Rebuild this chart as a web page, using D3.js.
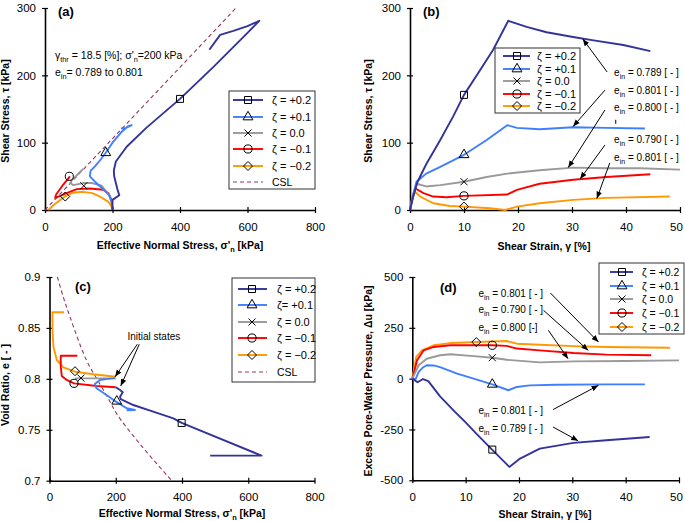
<!DOCTYPE html>
<html><head><meta charset="utf-8">
<script src="https://cdn.jsdelivr.net/npm/d3@7"></script>
<style>body{margin:0;background:#fff}svg{display:block}text{font-family:"Liberation Sans",Arial,sans-serif}</style>
</head><body>
<svg id="c" width="685" height="521"></svg>
<script>
// ---------- shared ----------
const seriesNames = ["ζ = +0.2","ζ = +0.1","ζ = 0.0","ζ = −0.1","ζ = −0.2"];
const seriesNamesC = ["ζ = +0.2","ζ= +0.1","ζ = 0.0","ζ = −0.1","ζ = −0.2"];
const colors = ["#333399","#3f7fff","#999999","#ff0000","#ff9900"];
const markerTypes = ["square","triangle","x","circle","diamond"];
const cslColor = "#993366";

// ---------- panel (a): [σ'n kPa, τ kPa] ----------
const a_p02 = [[200,0],[200,15],[220,22],[214,32],[205,50],[204,59],[210,72],[242,94],[300,122],[400,165],[500,213],[600,263],[635,281],[600,273],[558,266],[519,260],[487,238]];
const a_p01 = [[200,0],[198,12],[190,22],[170,32],[148,42],[133,50],[135,58],[150,66],[165,75],[180,85],[200,100],[225,115],[245,124],[257,126],[240,122],[225,121]];
const a_p00 = [[200,0],[197,12],[190,22],[168,36],[140,40],[113,40],[84,37],[75,40],[79,44],[95,52],[113,61]];
const a_m01 = [[200,0],[197,15],[188,25],[173,30],[133,32],[94,31],[64,25],[40,20],[30,18],[33,23],[50,35],[74,50]];
const a_m02 = [[200,0],[196,6],[188,12],[163,20],[140,25],[113,27],[90,26],[79,25],[59,20],[40,13],[25,7],[10,0]];
const a_csl = [[0,0],[566,300]];
const a_markers = [[400,165],[180,85],[115,36],[72,50],[60,20]];

// ---------- panel (b): [γ %, τ kPa] ----------
const b_p02 = [[0,0],[0.6,20],[1.4,42],[3,68],[5.6,104],[8,139],[10,171],[13,208],[15.4,238],[18.2,281],[21.6,272],[25.3,264],[30.2,257],[34,252],[39.5,245],[44.5,236]];
const b_p01 = [[0,0],[0.6,22],[1.2,42],[3,54],[5.6,64],[10,82],[14.2,104],[18,126],[19.8,122],[24,120],[30.2,123],[36.4,122],[43.5,121]];
const b_p00 = [[0,0],[0.5,22],[1.2,39],[3,35],[5.6,37],[10,42],[14.2,49],[18,54],[24,59],[30.2,63],[36.4,62],[42.6,62],[50,60]];
const b_m01 = [[0,0],[0.4,18],[1,32],[2.5,25],[4.3,20],[6.8,19],[10,21],[18,23],[19.8,30],[24,39],[30.2,45],[36.4,49],[44.5,53]];
const b_m02 = [[0,0],[0.4,15],[0.9,27],[1.9,20],[4.3,10],[7.4,6],[10,5],[14.8,2.5],[17.6,0],[19.8,5],[24,10],[30.2,15],[36.4,18],[48.1,20]];
const b_markers = [[10,171],[10,82],[10,42],[10,21],[10,5]];
const b_notes = ["0.789","0.801","0.800","0.790","0.801"];
const b_noteY = [203.5,177.5,151.5,104.7,78.7];
const b_arrows = [[[36.5,205],[32,254]],[[36.1,178],[30.2,124]],[[36.1,148.5],[29.3,63]],[[36.1,96.5],[31.5,46]],[[37,70],[34.6,17]]];

// ---------- panel (c): [σ'n kPa, e] ----------
const c_p02 = [[200,0.7917],[213,0.789],[221,0.7868],[213,0.7825],[215,0.780],[253,0.7743],[313,0.7678],[374,0.7612],[399,0.7567],[640,0.7246],[485,0.7246]];
const c_p01 = [[198,0.8007],[175,0.800],[152,0.7989],[137,0.795],[142,0.7907],[172,0.7842],[201,0.7776],[233,0.7711],[258,0.7694],[233,0.769]];
const c_p00 = [[200,0.8005],[77,0.8005]];
const c_m01 = [[200,0.7917],[142,0.793],[74,0.7956],[52,0.7989],[37,0.8028],[34,0.8119],[34,0.8227],[84,0.8227]];
const c_m02 = [[200,0.8021],[132,0.8045],[77,0.807],[42,0.8113],[22,0.8185],[12,0.8316],[9,0.8475],[9,0.8654],[44,0.8654]];
const c_csl = [[24,0.9],[42,0.88],[62,0.8607],[112,0.818],[152,0.795],[182,0.778],[203,0.7656],[273,0.736],[369,0.70]];
const c_markers = [[399,0.7567],[203,0.778],[95,0.8007],[74,0.7956],[77,0.8075]];
const c_arrows = [[[265,0.834],[198,0.802]],[[271,0.834],[215,0.793]]];

// ---------- panel (d): [γ %, Δu kPa] ----------
const d_p02 = [[0,0],[1,-18],[2,-2],[3,-12],[5.2,-87],[8,-163],[10,-215],[12,-270],[15,-350],[18.2,-434],[20.2,-393],[23.9,-344],[30.2,-316],[36.4,-303],[44.5,-287]];
const d_p01 = [[0,0],[0.6,-3],[1.2,33],[2,55],[2.7,66],[4,65],[5.2,57],[8.4,25],[11.5,0],[15,-28],[18,-57],[19.6,-41],[22,-33],[27,-30],[36.4,-28],[43.6,-28]];
const d_p00 = [[0,0],[1.2,66],[2.7,98],[5.2,115],[7.1,120],[11.5,111],[15,103],[17.7,93],[23.9,80],[30.2,85],[40,87],[50,90]];
const d_m01 = [[0,0],[0.9,90],[2.1,139],[4,156],[7.1,164],[11.5,164],[15,164],[17.7,161],[19.6,148],[23.9,139],[30.2,126],[36.4,118],[44.8,115]];
const d_m02 = [[0,0],[0.75,107],[1.8,139],[4,164],[7.1,175],[12,180],[17.7,185],[19.6,172],[23.9,167],[30.2,160],[36.4,156],[48.3,152]];
const d_markers = [[15,-349],[15,-28],[15,103],[15,164],[12,180]];
const d_notes = ["0.801 [ - ]","0.790 [ - ]","0.800 [-]","0.801 [ - ]","0.789 [ - ]"];
const d_noteY = [421,338,254,-159,-243];
const d_arrows = [[[25.9,421],[34.9,180]],[[24.6,336],[33,139]],[[25.5,238],[29.2,98]],[[26.4,-152],[34.9,-33]],[[26.4,-238],[31.1,-306]]];

// ---------- drawing ----------
const svg = d3.select("#c");
svg.append("defs").append("marker").attr("id","ah").attr("viewBox","0 0 10 10")
  .attr("refX",10).attr("refY",5).attr("markerWidth",7).attr("markerHeight",7)
  .attr("markerUnits","userSpaceOnUse").attr("orient","auto")
  .append("path").attr("d","M0,1L10,5L0,9z").attr("fill","#000");

function symPath(t){
  if(t==="x") return "M-3.5,-3.5L3.5,3.5M-3.5,3.5L3.5,-3.5";
  if(t==="diamond") return "M0,-4.5L4.5,0L0,4.5L-4.5,0Z";
  if(t==="square") return "M-3.5,-3.5H3.5V3.5H-3.5Z";
  if(t==="circle") return d3.symbol(d3.symbolCircle,52)();
  return d3.symbol(d3.symbolTriangle,42)();
}

function richText(g,x,y,parts,size,anchor,transform){
  const t=g.append("text").attr("x",x).attr("y",y).attr("font-size",size).attr("text-anchor",anchor||"start");
  if(transform) t.attr("transform",transform);
  let shift=0;
  parts.forEach(p=>{
    const s=t.append("tspan");
    if(typeof p==="string"){ s.attr("dy",-shift).text(p); shift=0; }
    else { s.attr("dy",size*0.3-shift).attr("font-size",size*0.7).text(p.sub); shift=size*0.3; }
  });
  return t;
}

function panel(cfg){
  const g=svg.append("g");
  const x=d3.scaleLinear().domain(cfg.xd).range(cfg.xr);
  const y=d3.scaleLinear().domain(cfg.yd).range(cfg.yr);
  const xa=g.append("g").attr("transform",`translate(0,${cfg.yr[0]})`)
    .call(d3.axisBottom(x).tickValues(cfg.xt).tickSizeInner(3).tickSizeOuter(0).tickPadding(9.5));
  xa.selectAll(".tick line").attr("y1",-3).attr("y2",3);
  const ya=g.append("g").attr("transform",`translate(${cfg.xr[0]},0)`)
    .call(d3.axisLeft(y).tickValues(cfg.yt).tickFormat(cfg.yf||(d=>d)).tickSizeInner(3).tickSizeOuter(0).tickPadding(6));
  ya.selectAll(".tick line").attr("x1",-3).attr("x2",3);
  [xa,ya].forEach(a=>{a.select(".domain").attr("stroke","#000").attr("stroke-width",1.6);
    a.selectAll(".tick line").attr("stroke","#000").attr("stroke-width",1.2);
    a.selectAll("text").attr("font-size",11.5).attr("fill","#000").attr("font-family","Liberation Sans, Arial, sans-serif");});
  if(cfg.lastShift) xa.selectAll(".tick text").filter((d,i,n)=>i===n.length-1).attr("dx",cfg.lastShift);
  const line=d3.line().x(d=>x(d[0])).y(d=>y(d[1]));
  if(cfg.csl) g.append("path").attr("d",d3.line().x(d=>x(d[0])).y(d=>y(d[1])).curve(d3.curveCatmullRom)(cfg.csl))
    .attr("fill","none").attr("stroke",cslColor).attr("stroke-width",1.1).attr("stroke-dasharray","4,3");
  for(let i=cfg.series.length-1;i>=0;i--){
    g.append("path").attr("d",line(cfg.series[i])).attr("fill","none").attr("stroke",colors[i])
      .attr("stroke-width",1.9).attr("stroke-linejoin","round");
  }
  cfg.markers.forEach((m,i)=>{
    g.append("path").attr("d",symPath(markerTypes[i])).attr("transform",`translate(${x(m[0])},${y(m[1])})`)
      .attr("fill","none").attr("stroke","#000").attr("stroke-width",1);
  });
  return {g,x,y};
}

function legend(box,rows,lx1,lx2,mx,tx,names,withCsl,fs){
  const g=svg.append("g");
  g.append("rect").attr("x",box[0]).attr("y",box[1]).attr("width",box[2]-box[0]).attr("height",box[3]-box[1])
    .attr("fill","#fff").attr("stroke","#333").attr("stroke-width",1);
  names.forEach((n,i)=>{
    g.append("line").attr("x1",lx1).attr("x2",lx2).attr("y1",rows[i]).attr("y2",rows[i]).attr("stroke",colors[i]).attr("stroke-width",1.9);
    g.append("path").attr("d",symPath(markerTypes[i])).attr("transform",`translate(${mx},${rows[i]})`)
      .attr("fill","none").attr("stroke","#000").attr("stroke-width",1);
    g.append("text").attr("x",tx).attr("y",rows[i]+4).attr("font-size",fs).attr("font-family","Liberation Serif, Times New Roman, serif").text(n);
  });
  if(withCsl){
    const r=rows[5];
    g.append("line").attr("x1",lx1).attr("x2",lx2).attr("y1",r).attr("y2",r).attr("stroke",cslColor).attr("stroke-width",1.1).attr("stroke-dasharray","4,3");
    g.append("text").attr("x",tx).attr("y",r+4).attr("font-size",fs-0.5).text("CSL");
  }
}

function arrow(P,a){
  P.g.append("line").attr("x1",P.x(a[0][0])).attr("y1",P.y(a[0][1])).attr("x2",P.x(a[1][0])).attr("y2",P.y(a[1][1]))
    .attr("stroke","#000").attr("stroke-width",1).attr("marker-end","url(#ah)");
}

// Panel A
const A=panel({xd:[0,800],xr:[45,315],yd:[0,300],yr:[210,8],xt:[0,200,400,600,800],yt:[0,100,200,300],
  series:[a_p02,a_p01,a_p00,a_m01,a_m02],markers:a_markers,csl:a_csl});
A.g.append("text").attr("x",58).attr("y",16).attr("font-size",13).attr("font-weight","bold").text("(a)");
richText(A.g,55,59,["γ",{sub:"thr"}," = 18.5 [%]; σ'",{sub:"n"},"=200 kPa"],10.5);
richText(A.g,55,76,["e",{sub:"in"},"= 0.789 to 0.801"],10.5);
richText(svg,180,249,["Effective Normal Stress, σ'",{sub:"n"}," [kPa]"],10.5,"middle").attr("font-weight","bold");
richText(svg,0,0,["Shear Stress, τ [kPa]"],10.5,"middle","translate(9,111) rotate(-90)").attr("font-weight","bold");
legend([229,91,315,189],[100,117,133,149,166,182],233,263,248,272,seriesNames,true,11);

// Panel B
const B=panel({xd:[0,50],xr:[410,680],yd:[0,300],yr:[210,8],xt:[0,10,20,30,40,50],yt:[0,100,200,300],
  series:[b_p02,b_p01,b_p00,b_m01,b_m02],markers:b_markers,lastShift:-4});
B.g.append("text").attr("x",423).attr("y",16).attr("font-size",13).attr("font-weight","bold").text("(b)");
richText(svg,544,250,["Shear Strain, γ [%]"],10.5,"middle").attr("font-weight","bold");
richText(svg,0,0,["Shear Stress, τ [kPa]"],10.5,"middle","translate(372,111) rotate(-90)").attr("font-weight","bold");
b_notes.forEach((n,i)=>richText(B.g,B.x(37.8),B.y(b_noteY[i])+3.5,["e",{sub:"in"}," = "+n+" [ - ]"],10));
B.g.append("line").attr("x1",B.x(38.1)).attr("x2",B.x(38.1)).attr("y1",B.y(134)).attr("y2",B.y(128)).attr("stroke","#000").attr("stroke-width",1);
b_arrows.forEach(a=>arrow(B,a));
legend([495,48,580,113],[56,69,81,94,106],503,530,517,537,seriesNames,false,11);

// Panel C
const C=panel({xd:[0,800],xr:[49.5,314.5],yd:[0.7,0.9],yr:[480.7,277],xt:[0,200,400,600,800],yt:[0.7,0.75,0.8,0.85,0.9],
  yf:d=>String(+d.toFixed(2)),series:[c_p02,c_p01,c_p00,c_m01,c_m02],markers:c_markers,csl:c_csl});
C.g.append("text").attr("x",75).attr("y",291).attr("font-size",13).attr("font-weight","bold").text("(c)");
C.g.append("text").attr("x",C.x(315)).attr("y",C.y(0.8411)+3.5).attr("font-size",10).attr("text-anchor","middle").text("Initial states");
c_arrows.forEach(a=>arrow(C,a));
richText(svg,182,517,["Effective Normal Stress, σ'",{sub:"n"}," [kPa]"],10.5,"middle").attr("font-weight","bold");
richText(svg,0,0,["Void Ratio, e [ - ]"],10.5,"middle","translate(9,385) rotate(-90)").attr("font-weight","bold");
legend([232,278,315,382],[289,305,322,338,355,372],238,267,252,277,seriesNamesC,true,11);

// Panel D
const D=panel({xd:[0,50],xr:[412.3,679],yd:[-500,500],yr:[480.3,277],xt:[0,10,20,30,40,50],yt:[-500,-250,0,250,500],
  series:[d_p02,d_p01,d_p00,d_m01,d_m02],markers:d_markers,lastShift:-3});
D.g.append("text").attr("x",440).attr("y",292).attr("font-size",13).attr("font-weight","bold").text("(d)");
d_notes.forEach((n,i)=>richText(D.g,D.x(12.4),D.y(d_noteY[i])+3.5,["e",{sub:"in"}," = "+n],10));
d_arrows.forEach(a=>arrow(D,a));
richText(svg,545,518,["Shear Strain, γ [%]"],10.5,"middle").attr("font-weight","bold");
richText(svg,0,0,["Excess Pore-Water Pressure, Δu [kPa]"],10.5,"middle","translate(372,381) rotate(-90)").attr("font-weight","bold");
legend([599,263,684,334],[272,286,299,313,327],610,633,622,642,seriesNames,false,10.5);
</script>
</body></html>
